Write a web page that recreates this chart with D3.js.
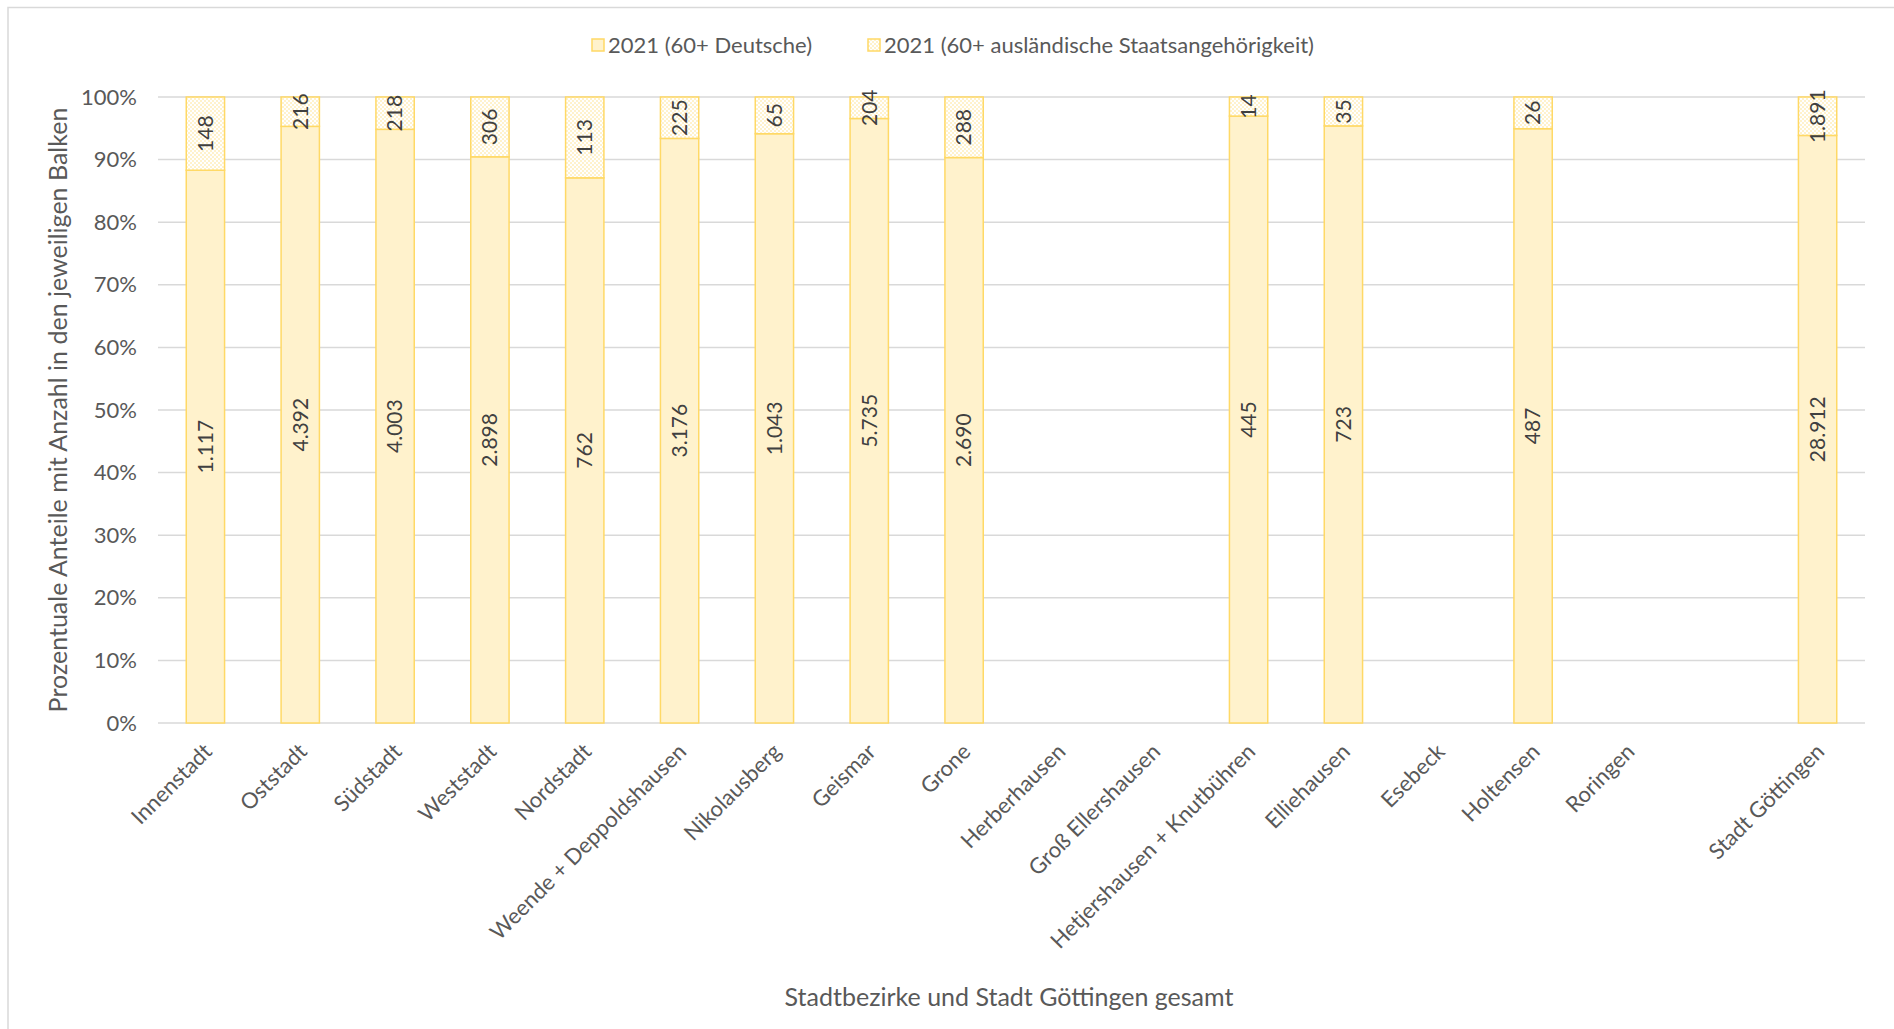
<!DOCTYPE html>
<html>
<head>
<meta charset="utf-8">
<script src="https://cdn.jsdelivr.net/npm/d3@7"></script>
<style>
  html, body { margin: 0; padding: 0; background: #fff; }
  svg { display: block; }
  text { font-family: Lato, "Open Sans", sans-serif; }
</style>
</head>
<body>
<svg id="chart" width="1894" height="1029"></svg>
<script>
// ---- data ----
const categories = ["Innenstadt", "Oststadt", "Südstadt", "Weststadt", "Nordstadt",
  "Weende + Deppoldshausen", "Nikolausberg", "Geismar", "Grone", "Herberhausen",
  "Groß Ellershausen", "Hetjershausen + Knutbühren", "Elliehausen", "Esebeck",
  "Holtensen", "Roringen", "", "Stadt Göttingen"];
const deutsche = [1117, 4392, 4003, 2898, 762, 3176, 1043, 5735, 2690, null,
  null, 445, 723, null, 487, null, null, 28912];
const auslaender = [148, 216, 218, 306, 113, 225, 65, 204, 288, null,
  null, 14, 35, null, 26, null, null, 1891];
const seriesNames = ["2021 (60+ Deutsche)", "2021 (60+ ausländische Staatsangehörigkeit)"];
const yTicks = [0, 0.1, 0.2, 0.3, 0.4, 0.5, 0.6, 0.7, 0.8, 0.9, 1.0];

// ---- layout ----
const svg = d3.select("#chart");
const plot = { left: 158, right: 1865, top: 97, bottom: 723 };
const fillD = "#FFF2CC", stroke = "#FFD966";
const textCol = "#595959";

// chart border (top + left only visible)
svg.append("path").attr("d", "M8,1040 L8,7.5 L1900,7.5")
  .attr("fill", "none").attr("stroke", "#D9D9D9").attr("stroke-width", 1.5);

// pattern
const defs = svg.append("defs");
const pat = defs.append("pattern").attr("id", "chk").attr("patternUnits", "userSpaceOnUse")
  .attr("width", 4).attr("height", 4);
pat.append("rect").attr("width", 4).attr("height", 4).attr("fill", "#FFFFFF");
pat.append("rect").attr("width", 2).attr("height", 2).attr("fill", fillD);
pat.append("rect").attr("x", 2).attr("y", 2).attr("width", 2).attr("height", 2).attr("fill", fillD);

const x = d3.scaleBand().domain(d3.range(categories.length))
  .range([plot.left, plot.right]).paddingInner(0.596).paddingOuter(0.298);
const y = d3.scaleLinear().domain([0, 1]).range([plot.bottom, plot.top]);

// gridlines
svg.append("g").selectAll("line").data(yTicks).join("line")
  .attr("x1", plot.left).attr("x2", plot.right)
  .attr("y1", d => y(d)).attr("y2", d => y(d))
  .attr("stroke", "#D9D9D9").attr("stroke-width", 1.5);

// y axis labels
const yAxis = d3.axisLeft(y).tickValues(yTicks).tickSize(0).tickPadding(0)
  .tickFormat(d => Math.round(d * 100) + "%");
const yg = svg.append("g").attr("transform", `translate(137,0)`).call(yAxis);
yg.select(".domain").remove();
yg.selectAll("text").attr("font-family", "Lato, sans-serif").attr("font-size", 22)
  .attr("fill", textCol);

// x axis labels
const fmt = v => d3.format(",")(v).replace(/,/g, ".");
const xg = svg.append("g");
xg.selectAll("text").data(categories).join("text")
  .attr("transform", (d, i) => `translate(${x(i) + x.bandwidth() / 2 + 8},${plot.bottom + 30}) rotate(-45)`)
  .attr("text-anchor", "end").attr("font-size", 22).attr("fill", textCol)
  .text(d => d);

// stacked bars
const rows = categories.map((c, i) => ({ i, d: deutsche[i], a: auslaender[i] }))
  .filter(r => r.d != null);
const bars = svg.append("g");
rows.forEach(r => {
  const tot = r.d + r.a;
  const pD = r.d / tot;
  const bx = x(r.i), bw = x.bandwidth(), cx = bx + bw / 2;
  bars.append("rect").attr("x", bx).attr("y", y(pD)).attr("width", bw)
    .attr("height", y(0) - y(pD)).attr("fill", fillD).attr("stroke", stroke).attr("stroke-width", 1.5);
  bars.append("rect").attr("x", bx).attr("y", y(1)).attr("width", bw)
    .attr("height", y(pD) - y(1)).attr("fill", "url(#chk)").attr("stroke", stroke).attr("stroke-width", 1.5);
  bars.append("text").attr("transform", `translate(${cx},${(y(0) + y(pD)) / 2}) rotate(-90)`)
    .attr("text-anchor", "middle").attr("dy", "0.35em").attr("font-size", 21).attr("fill", "#404040")
    .text(fmt(r.d));
  bars.append("text").attr("transform", `translate(${cx},${(y(pD) + y(1)) / 2}) rotate(-90)`)
    .attr("text-anchor", "middle").attr("dy", "0.35em").attr("font-size", 21).attr("fill", "#404040")
    .text(fmt(r.a));
});

// legend
const lg = svg.append("g").attr("transform", "translate(0,45)");
const legX = [592, 868];
seriesNames.forEach((s, k) => {
  lg.append("rect").attr("x", legX[k]).attr("y", -6).attr("width", 12).attr("height", 12)
    .attr("fill", k === 0 ? fillD : "url(#chk)").attr("stroke", stroke).attr("stroke-width", 1.5);
  lg.append("text").attr("x", legX[k] + 16).attr("y", 0).attr("dy", "0.35em")
    .attr("font-size", 22).attr("fill", textCol).text(s);
});

// axis titles
svg.append("text").attr("x", 1009).attr("y", 997).attr("dy", "0.35em")
  .attr("text-anchor", "middle").attr("font-size", 25).attr("fill", textCol)
  .text("Stadtbezirke und Stadt Göttingen gesamt");
svg.append("text").attr("transform", "translate(58,410) rotate(-90)").attr("dy", "0.35em")
  .attr("text-anchor", "middle").attr("font-size", 25).attr("fill", textCol)
  .text("Prozentuale Anteile mit Anzahl in den jeweiligen Balken");
</script>
</body>
</html>
